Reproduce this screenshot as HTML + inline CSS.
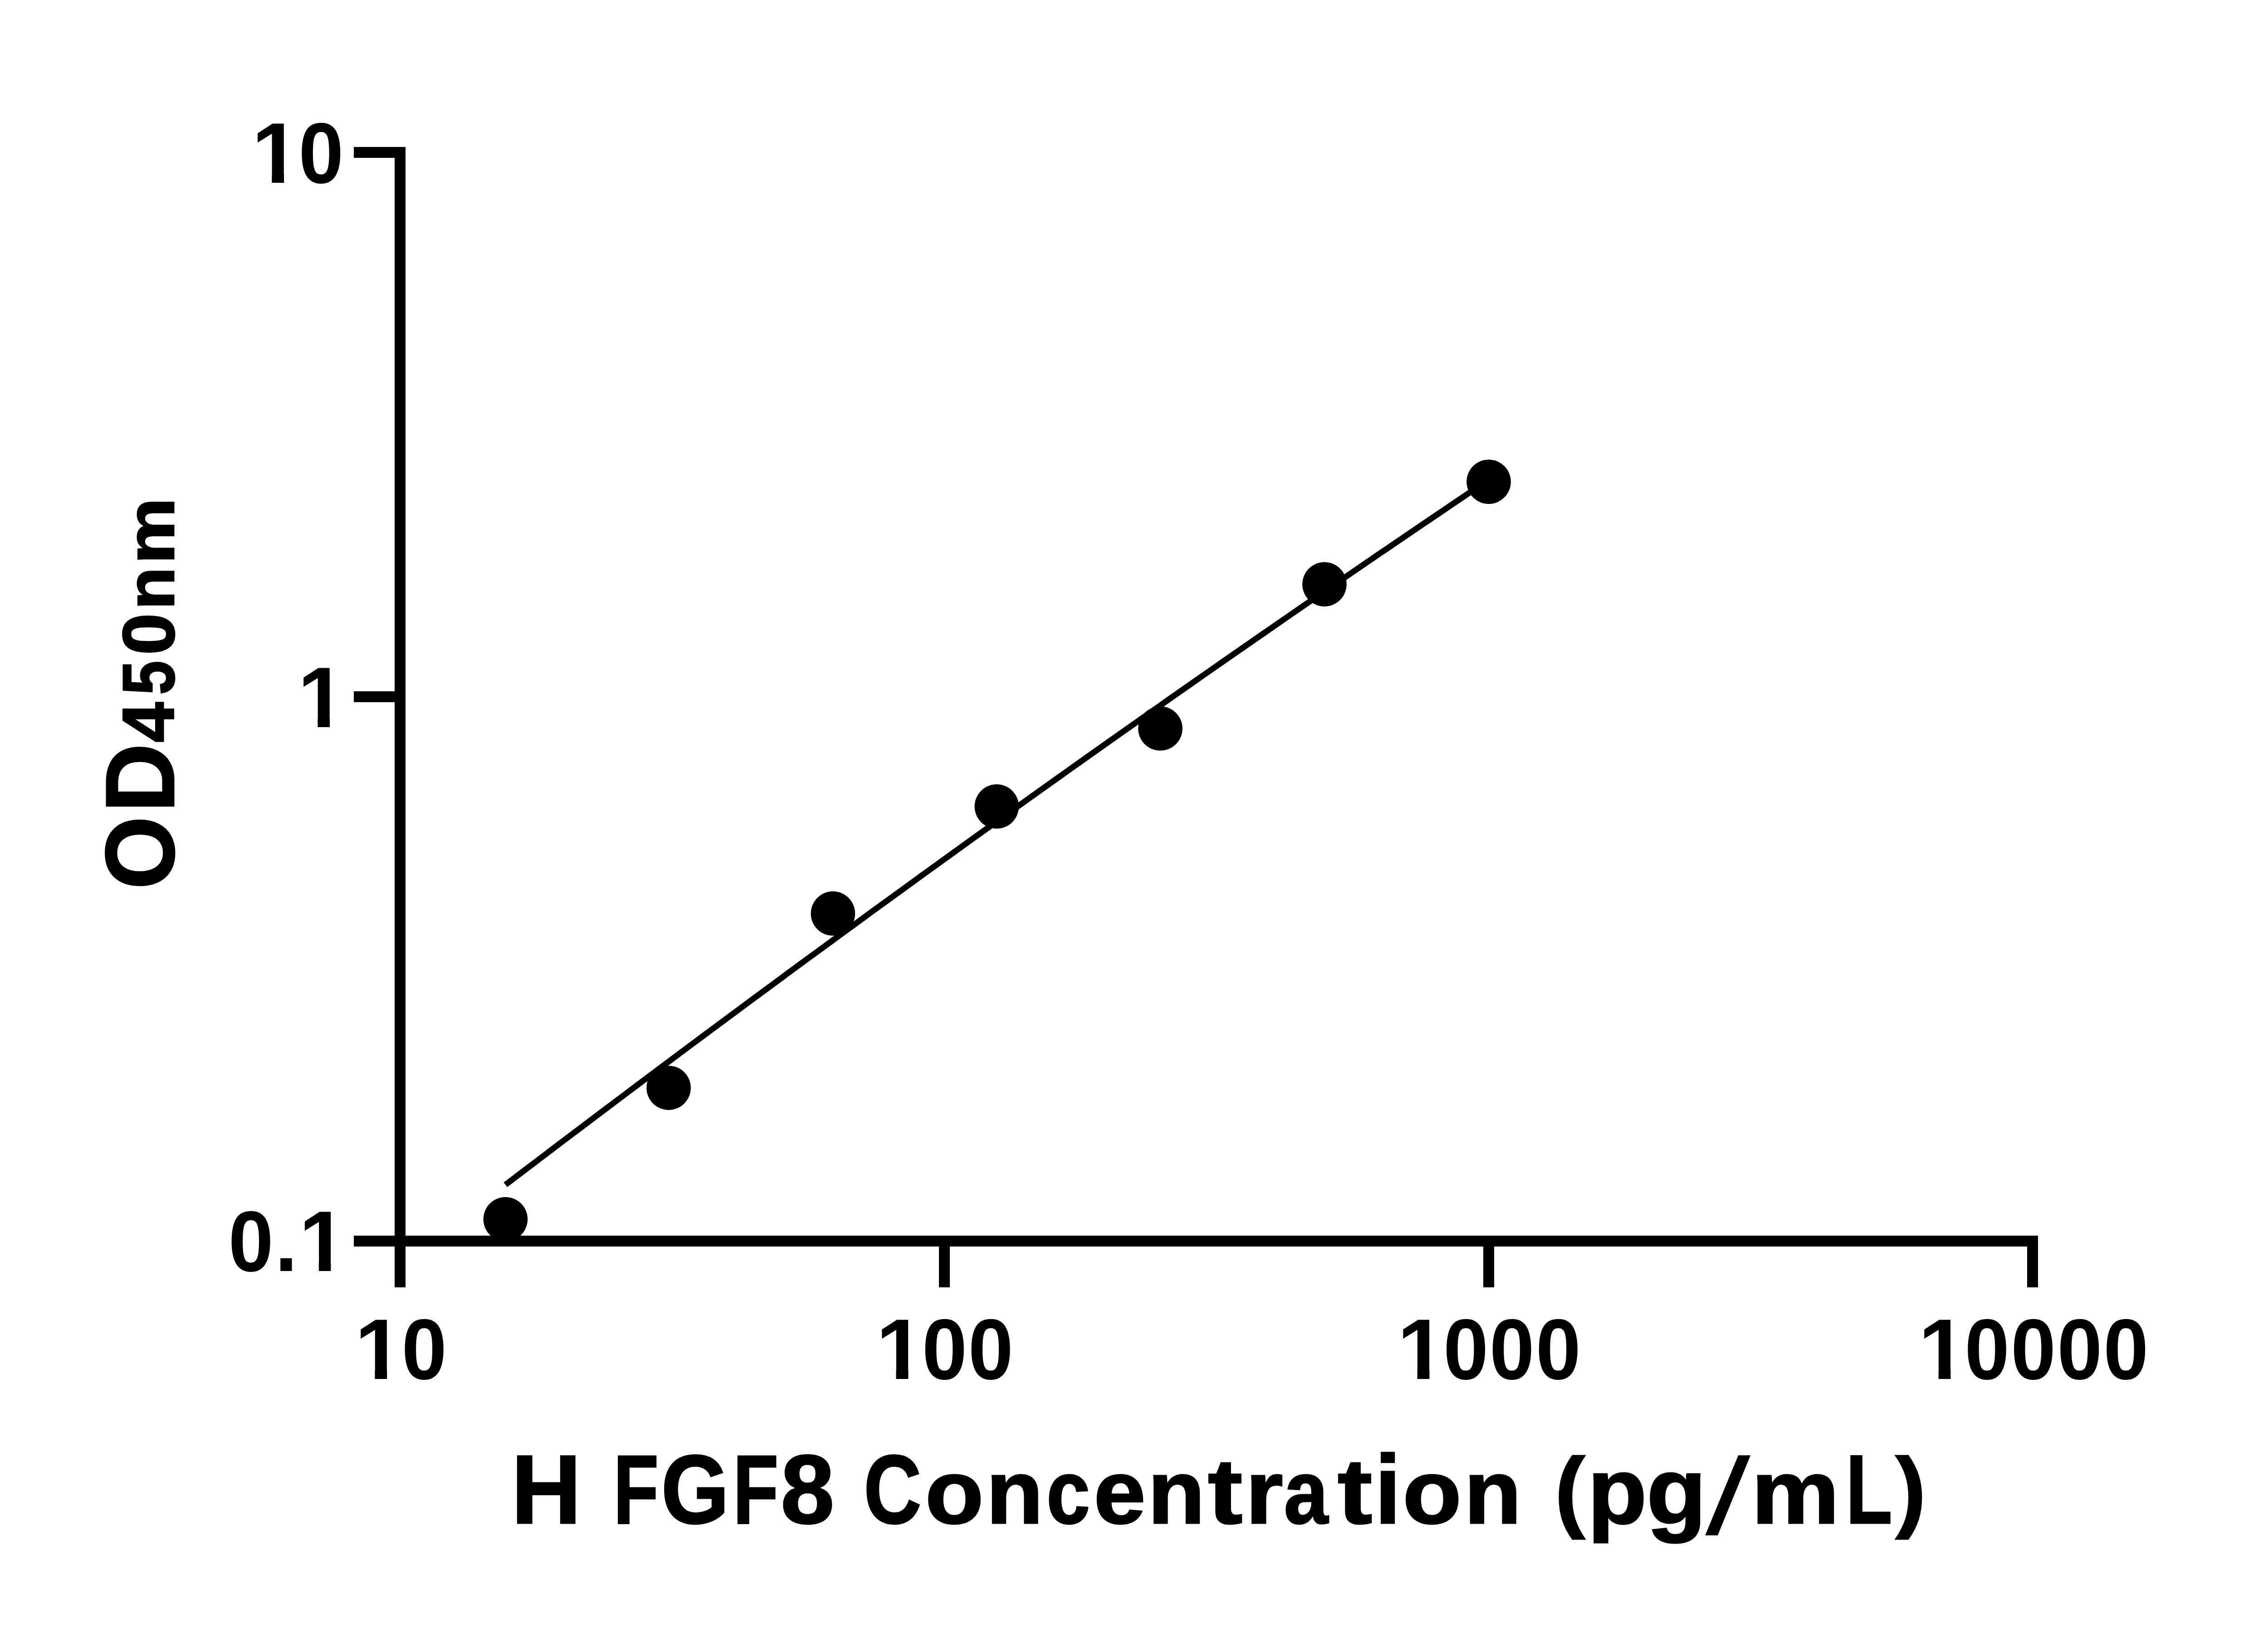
<!DOCTYPE html>
<html><head><meta charset="utf-8"><title>H FGF8 standard curve</title>
<style>
html,body{margin:0;padding:0;background:#fff;}
body{width:5034px;height:3600px;overflow:hidden;}
svg{display:block;}
text{font-family:"Liberation Sans",sans-serif;font-weight:bold;fill:#000;white-space:pre;}
</style></head><body>
<svg width="5034" height="3600" viewBox="0 0 5034 3600">
<rect x="0" y="0" width="5034" height="3600" fill="#fff"/>
<g fill="#000" shape-rendering="crispEdges">
<rect x="870" y="324" width="24" height="2514"/>
<rect x="780" y="2724" width="3713" height="24"/>
<rect x="780" y="324" width="100" height="24"/>
<rect x="780" y="1524" width="100" height="24"/>
<rect x="780" y="2724" width="100" height="24"/>
<rect x="870" y="2736" width="24" height="102"/>
<rect x="2070" y="2736" width="24" height="102"/>
<rect x="3270" y="2736" width="24" height="102"/>
<rect x="4469" y="2736" width="24" height="102"/>
</g>
<polyline points="1114.3,2611.9 1151.0,2584.0 1187.8,2556.1 1224.5,2528.2 1261.3,2500.4 1298.0,2472.7 1334.7,2445.0 1371.5,2417.4 1408.2,2389.8 1445.0,2362.3 1481.7,2334.8 1518.4,2307.4 1555.2,2280.0 1591.9,2252.7 1628.7,2225.5 1665.4,2198.3 1702.2,2171.2 1738.9,2144.1 1775.6,2117.1 1812.4,2090.2 1849.1,2063.3 1885.9,2036.4 1922.6,2009.6 1959.3,1982.9 1996.1,1956.2 2032.8,1929.6 2069.6,1903.0 2106.3,1876.5 2143.0,1850.0 2179.8,1823.6 2216.5,1797.3 2253.3,1771.0 2290.0,1744.8 2326.7,1718.6 2363.5,1692.5 2400.2,1666.4 2437.0,1640.4 2473.7,1614.5 2510.4,1588.6 2547.2,1562.7 2583.9,1536.9 2620.7,1511.2 2657.4,1485.5 2694.1,1459.9 2730.9,1434.4 2767.6,1408.9 2804.4,1383.4 2841.1,1358.0 2877.9,1332.7 2914.6,1307.4 2951.3,1282.2 2988.1,1257.0 3024.8,1231.9 3061.6,1206.8 3098.3,1181.8 3135.0,1156.9 3171.8,1132.0 3208.5,1107.2 3245.3,1082.4 3282.0,1057.7" fill="none" stroke="#000" stroke-width="13" stroke-linejoin="round" stroke-linecap="butt"/>
<circle cx="1114.4" cy="2687.8" r="48.8" fill="#000"/>
<circle cx="1474.1" cy="2398.2" r="48.8" fill="#000"/>
<circle cx="1836.3" cy="2013.9" r="48.8" fill="#000"/>
<circle cx="2197.3" cy="1777.9" r="48.8" fill="#000"/>
<circle cx="2558.0" cy="1606.0" r="48.8" fill="#000"/>
<circle cx="2919.9" cy="1288.1" r="48.8" fill="#000"/>
<circle cx="3282.0" cy="1062.1" r="48.8" fill="#000"/>
<text transform="translate(0,402.8) scale(1,1.0390)" font-size="183"><tspan x="555.05" textLength="106.17" lengthAdjust="spacingAndGlyphs">1</tspan><tspan x="658.34" textLength="99.28" lengthAdjust="spacingAndGlyphs">0</tspan></text>
<text transform="translate(0,1602.5) scale(1,1.0390)" font-size="183"><tspan x="656.30" textLength="105.80" lengthAdjust="spacingAndGlyphs">1</tspan></text>
<text transform="translate(0,2801.9) scale(1,1.0390)" font-size="183"><tspan x="503.63" textLength="99.40" lengthAdjust="spacingAndGlyphs">0</tspan><tspan x="606.03" textLength="49.81" lengthAdjust="spacingAndGlyphs">.</tspan><tspan x="658.96" textLength="105.25" lengthAdjust="spacingAndGlyphs">1</tspan></text>
<text transform="translate(0,3039.7) scale(1,1.0390)" font-size="183"><tspan x="782.27" textLength="105.99" lengthAdjust="spacingAndGlyphs">1</tspan><tspan x="885.62" textLength="99.52" lengthAdjust="spacingAndGlyphs">0</tspan></text>
<text transform="translate(0,3039.8) scale(1,1.0390)" font-size="183"><tspan x="1931.23" textLength="106.36" lengthAdjust="spacingAndGlyphs">1</tspan><tspan x="2032.83" textLength="99.40" lengthAdjust="spacingAndGlyphs">0</tspan><tspan x="2134.53" textLength="99.40" lengthAdjust="spacingAndGlyphs">0</tspan></text>
<text transform="translate(0,3039.7) scale(1,1.0390)" font-size="183"><tspan x="3080.35" textLength="106.17" lengthAdjust="spacingAndGlyphs">1</tspan><tspan x="3181.94" textLength="99.28" lengthAdjust="spacingAndGlyphs">0</tspan><tspan x="3283.86" textLength="99.05" lengthAdjust="spacingAndGlyphs">0</tspan><tspan x="3385.74" textLength="99.28" lengthAdjust="spacingAndGlyphs">0</tspan></text>
<text transform="translate(0,3039.8) scale(1,1.0390)" font-size="183"><tspan x="4229.35" textLength="106.17" lengthAdjust="spacingAndGlyphs">1</tspan><tspan x="4331.17" textLength="98.81" lengthAdjust="spacingAndGlyphs">0</tspan><tspan x="4433.05" textLength="99.17" lengthAdjust="spacingAndGlyphs">0</tspan><tspan x="4535.15" textLength="99.17" lengthAdjust="spacingAndGlyphs">0</tspan><tspan x="4637.35" textLength="99.17" lengthAdjust="spacingAndGlyphs">0</tspan></text>
<g fill="#fff"><rect x="566.2" y="381.9" width="33.1" height="22.4"/><rect x="626.1" y="381.9" width="31.0" height="22.4"/><rect x="667.4" y="1581.6" width="33.0" height="22.4"/><rect x="727.1" y="1581.6" width="30.9" height="22.4"/><rect x="670.1" y="2781.0" width="32.8" height="22.4"/><rect x="729.4" y="2781.0" width="30.8" height="22.4"/><rect x="793.4" y="3018.8" width="33.0" height="22.4"/><rect x="853.2" y="3018.8" width="31.0" height="22.4"/><rect x="1942.4" y="3018.9" width="33.1" height="22.4"/><rect x="2002.4" y="3018.9" width="31.1" height="22.4"/><rect x="3091.5" y="3018.8" width="33.1" height="22.4"/><rect x="3151.4" y="3018.8" width="31.0" height="22.4"/><rect x="4240.5" y="3018.9" width="33.1" height="22.4"/><rect x="4300.4" y="3018.9" width="31.0" height="22.4"/></g>
<text y="3358.1" font-size="215.8" stroke="#000" stroke-width="3.0"><tspan x="1126.97" y="3358.1" textLength="154.66" lengthAdjust="spacingAndGlyphs" font-size="215.8">H</tspan> <tspan x="1352.26" y="3358.1" textLength="99.94" lengthAdjust="spacingAndGlyphs" font-size="215.8">F</tspan><tspan x="1457.49" y="3358.1" textLength="149.96" lengthAdjust="spacingAndGlyphs" font-size="215.8">G</tspan><tspan x="1616.12" y="3358.1" textLength="100.30" lengthAdjust="spacingAndGlyphs" font-size="215.8">F</tspan><tspan x="1721.04" y="3358.1" textLength="118.52" lengthAdjust="spacingAndGlyphs" font-size="215.8">8</tspan> <tspan x="1904.18" y="3358.1" textLength="127.13" lengthAdjust="spacingAndGlyphs" font-size="215.8">C</tspan><tspan x="2039.55" y="3358.1" textLength="129.00" lengthAdjust="spacingAndGlyphs" font-size="199.2">o</tspan><tspan x="2174.02" y="3358.1" textLength="125.86" lengthAdjust="spacingAndGlyphs" font-size="199.2">n</tspan><tspan x="2306.94" y="3358.1" textLength="96.23" lengthAdjust="spacingAndGlyphs" font-size="199.2">c</tspan><tspan x="2411.35" y="3358.1" textLength="114.59" lengthAdjust="spacingAndGlyphs" font-size="199.2">e</tspan><tspan x="2530.18" y="3358.1" textLength="126.24" lengthAdjust="spacingAndGlyphs" font-size="199.2">n</tspan><tspan x="2662.69" y="3358.1" textLength="76.62" lengthAdjust="spacingAndGlyphs" font-size="205.0">t</tspan><tspan x="2745.84" y="3358.1" textLength="82.98" lengthAdjust="spacingAndGlyphs" font-size="199.2">r</tspan><tspan x="2830.56" y="3358.1" textLength="97.52" lengthAdjust="spacingAndGlyphs" font-size="199.2">a</tspan><tspan x="2948.79" y="3358.1" textLength="76.62" lengthAdjust="spacingAndGlyphs" font-size="205.0">t</tspan><tspan x="3030.90" y="3358.1" textLength="57.30" lengthAdjust="spacingAndGlyphs" font-size="215.6">i</tspan><tspan x="3092.30" y="3358.1" textLength="129.80" lengthAdjust="spacingAndGlyphs" font-size="199.2">o</tspan><tspan x="3227.86" y="3358.1" textLength="126.36" lengthAdjust="spacingAndGlyphs" font-size="199.2">n</tspan> <tspan x="3427.90" y="3351.8" textLength="66.19" lengthAdjust="spacingAndGlyphs" font-size="195.9">(</tspan><tspan x="3499.66" y="3358.1" textLength="131.04" lengthAdjust="spacingAndGlyphs" font-size="206.0">p</tspan><tspan x="3629.95" y="3358.1" textLength="131.78" lengthAdjust="spacingAndGlyphs" font-size="206.0">g</tspan></text>
<text transform="matrix(1.0566 0 -0.244 1.078 3758.1 3380.25)" font-size="220">/</text>
<text y="3358.1" font-size="215.8" stroke="#000" stroke-width="3.0"><tspan x="3860.91" y="3358.1" textLength="194.13" lengthAdjust="spacingAndGlyphs" font-size="199.2">m</tspan><tspan x="4069.18" y="3358.1" textLength="102.48" lengthAdjust="spacingAndGlyphs" font-size="215.8">L</tspan><tspan x="4179.10" y="3351.8" textLength="66.67" lengthAdjust="spacingAndGlyphs" font-size="195.9">)</tspan></text>
<text transform="translate(383.0,2000) rotate(-90)" font-size="215.8" stroke="#000" stroke-width="3.0"><tspan x="39.51" textLength="160.98" lengthAdjust="spacingAndGlyphs" font-size="215.8">O</tspan><tspan x="209.10" textLength="152.26" lengthAdjust="spacingAndGlyphs" font-size="215.8">D</tspan><tspan x="363.18" textLength="88.88" lengthAdjust="spacingAndGlyphs" font-size="160.6">4</tspan><tspan x="468.24" textLength="75.23" lengthAdjust="spacingAndGlyphs" font-size="161.9">5</tspan><tspan x="555.94" textLength="92.27" lengthAdjust="spacingAndGlyphs" font-size="161.9">0</tspan><tspan x="656.09" textLength="93.73" lengthAdjust="spacingAndGlyphs" font-size="148.2">n</tspan><tspan x="757.11" textLength="145.54" lengthAdjust="spacingAndGlyphs" font-size="148.2">m</tspan></text>
</svg></body></html>
